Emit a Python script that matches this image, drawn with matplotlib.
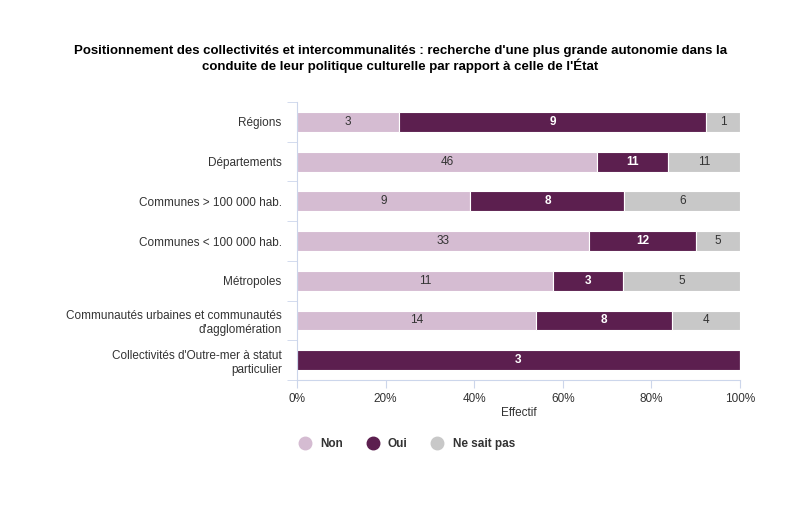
import matplotlib.pyplot as plt
import numpy as np

categories = ["Régions", "Départements", "Communes > 100 000 hab.", "Communes < 100 000 hab.",
              "Métropoles", "Communautés urbaines et communautés\nd'agglomération",
              "Collectivités d'Outre-mer à statut\nparticulier"]
non = [3, 46, 9, 33, 11, 14, 0]
oui = [9, 11, 8, 12, 3, 8, 3]
nsp = [1, 11, 6, 5, 5, 4, 0]
series_names = ["Non", "Oui", "Ne sait pas"]
colors = ["#d5bcd2", "#5c1f4f", "#c8c8c8"]
text_colors = ["#333333", "white", "#333333"]
weights = ["normal", "bold", "normal"]

plt.rcParams['font.family'] = ['Liberation Sans', 'DejaVu Sans']

fig = plt.figure(figsize=(8.01, 5.11), dpi=100)
ax = fig.add_axes([297/801, 1 - 380/511, 443/801, 278/511])

data = np.array([non, oui, nsp], dtype=float)
totals = data.sum(axis=0)
pct = data / totals * 100
y = np.arange(len(categories))
left = np.zeros(len(categories))
for i in range(3):
    ax.barh(y, pct[i], left=left, height=0.5, color=colors[i], label=series_names[i],
            edgecolor="white", linewidth=0.8)
    for j in range(len(categories)):
        if data[i, j] > 0:
            ax.text(left[j] + pct[i, j] / 2, y[j], str(int(data[i, j])), ha="center", va="center",
                    fontsize=8.5, color=text_colors[i], fontweight=weights[i])
    left += pct[i]

ax.set_ylim(len(categories) - 0.5, -0.5)
ax.set_xlim(0, 100)
ax.set_yticks(y)
ax.set_yticklabels(categories, fontsize=8.5, color="#333333", linespacing=1.25)
ax.set_yticks(np.arange(len(categories) + 1) - 0.5, minor=True)
ax.tick_params(axis="y", which="major", length=0, pad=11)
ax.tick_params(axis="y", which="minor", length=7, color="#ccd6eb")
ax.set_xticks([0, 20, 40, 60, 80, 100])
ax.set_xticklabels(["0%", "20%", "40%", "60%", "80%", "100%"], fontsize=8.5, color="#333333")
ax.tick_params(axis="x", length=6, color="#ccd6eb", pad=3)
ax.set_xlabel("Effectif", fontsize=8.5, color="#333333", labelpad=2)
for s in ["top", "right"]:
    ax.spines[s].set_visible(False)
ax.spines["left"].set_color("#ccd6eb")
ax.spines["bottom"].set_color("#ccd6eb")

fig.suptitle("Positionnement des collectivités et intercommunalités : recherche d'une plus grande autonomie dans la\n"
             "conduite de leur politique culturelle par rapport à celle de l'État",
             x=0.5, y=1 - 45/511, fontsize=9.5, fontweight="bold", color="#000000", linespacing=1.1)

handles = [plt.Line2D([], [], marker="o", linestyle="", markersize=9, color=c) for c in colors]
leg = fig.legend(handles, series_names, loc="center", bbox_to_anchor=(404/801, 1 - 444/511), ncol=3,
                 frameon=False, handletextpad=0.3, columnspacing=1.5,
                 prop={"size": 8.5, "weight": "bold"})
for t in leg.get_texts():
    t.set_color("#333333")

fig.savefig("out.png", dpi=100)
